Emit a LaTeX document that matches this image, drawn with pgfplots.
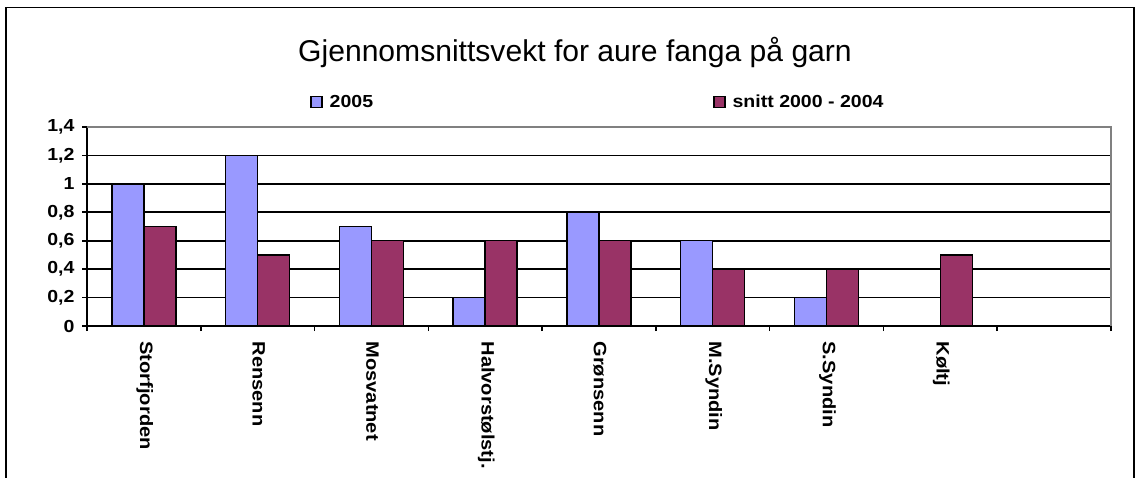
\documentclass[border=0pt]{standalone}
\usepackage{pgfplots}
\pgfplotsset{compat=1.18}
\usepackage{fontspec}
\setmainfont{Liberation Sans}
\newfontfamily\lblfont{Liberation Sans}[FakeStretch=1.12]
\definecolor{cA}{HTML}{9999FF}
\definecolor{cB}{HTML}{993366}
\begin{document}
\begin{tikzpicture}
\useasboundingbox (0bp,0bp) rectangle (1141bp,478bp);
\fill[white] (0bp,0bp) rectangle (1141bp,478bp);
\draw[line width=1.6bp] (6bp,-2bp) -- (6bp,470.5bp) -- (1134bp,470.5bp) -- (1134bp,-2bp);
\node[font=\fontsize{30.2}{36}\selectfont, anchor=center, inner sep=0pt] at (575bp,426bp) {Gjennomsnittsvekt for aure fanga på garn};
\begin{axis}[
  at={(87bp,152bp)}, anchor=south west,
  scale only axis, width=1024bp, height=199bp,
  ymin=0, ymax=1.4, xmin=-0.5, xmax=8.5,
  axis x line*=bottom, axis y line*=left,
  axis line style={black, line width=1.6bp},
  tick align=outside, major tick length=5bp,
  ytick={0,0.2,0.4,0.6,0.8,1,1.2,1.4},
  yticklabels={0,{0,2},{0,4},{0,6},{0,8},1,{1,2},{1,4}},
  ytick style={black, line width=1.6bp},
  ymajorgrids, grid style={black, line width=1.6bp},
  xtick={0,1,2,3,4,5,6,7},
  xticklabels={Storfjorden,Rensenn,Mosvatnet,Halvorstølstj.,Grønsenn,M.Syndin,S.Syndin,Køltj},
  xtick style={draw=none},
  extra x ticks={-0.5,0.5,1.5,2.5,3.5,4.5,5.5,6.5,7.5,8.5},
  extra x tick labels={},
  extra x tick style={xtick style={draw=black, line width=1.6bp}},
  xticklabel style={rotate=-90, anchor=west, xshift=7bp, yshift=1bp, font=\lblfont\bfseries\fontsize{18}{20}\selectfont},
  yticklabel style={anchor=east, xshift=-4bp, font=\lblfont\bfseries\fontsize{17.5}{20}\selectfont},
  /pgf/number format/assume math mode=true,
  ybar=0pt, bar width=32bp,
  legend columns=2,
  legend style={draw=none, fill=none, inner sep=0pt, at={(0.2178,1.1256)}, anchor=west,
    font=\lblfont\bfseries\fontsize{17.5}{20}\selectfont,
    /tikz/every odd column/.append style={column sep=5bp},
    /tikz/every even column/.append style={column sep=338bp}},
  legend image code/.code={\draw[#1, line width=1.5bp] (0bp,-5.5bp) rectangle (11bp,5.5bp);},
  clip=false,
]
\addplot[fill=cA, draw=black, line width=1.5bp] coordinates {(0,1.0) (1,1.2) (2,0.7) (3,0.2) (4,0.8) (5,0.6) (6,0.2)};
\addlegendentry{2005}
\addplot[fill=cB, draw=black, line width=1.5bp] coordinates {(0,0.7) (1,0.5) (2,0.6) (3,0.6) (4,0.6) (5,0.4) (6,0.4) (7,0.5)};
\addlegendentry{snitt 2000 - 2004}
\draw[gray, line width=1.6bp] (rel axis cs:0,1) -- (rel axis cs:1,1) -- (rel axis cs:1,0);
\end{axis}
\end{tikzpicture}
\end{document}
